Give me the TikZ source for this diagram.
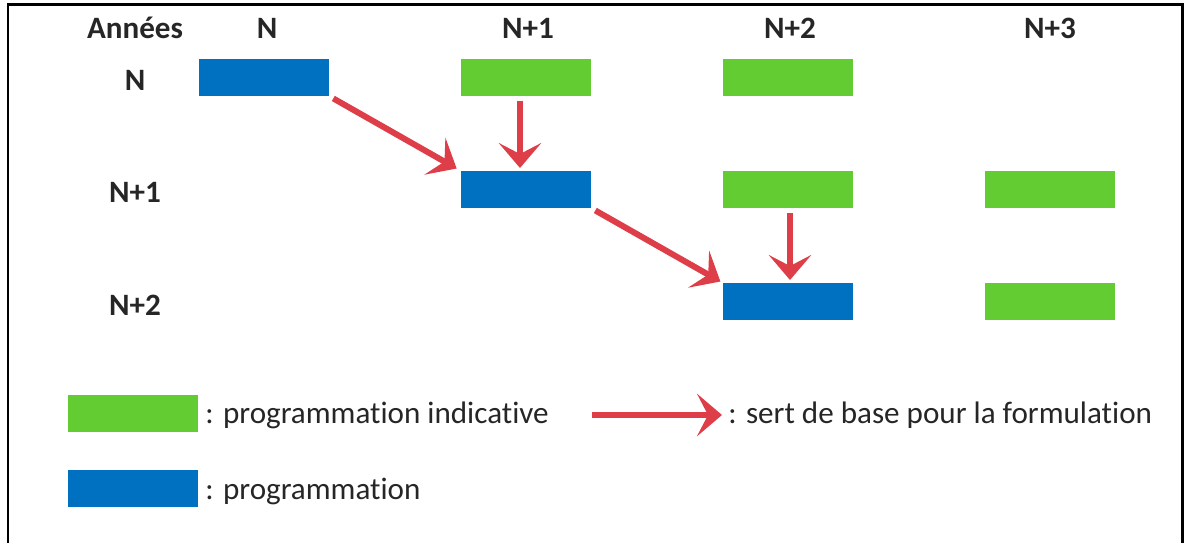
\documentclass[tikz,border=0pt]{standalone}
\usepackage{fontspec}
\setmainfont{Carlito}[Ligatures=NoCommon]
\usetikzlibrary{arrows.meta}
\definecolor{progblue}{RGB}{0,112,192}
\definecolor{indgreen}{RGB}{98,204,50}
\definecolor{arrowred}{RGB}{222,62,72}

\begin{document}
\begin{tikzpicture}[x=0.02cm, y=-0.02cm,
  bar/.style={minimum width=2.6cm, minimum height=0.74cm, inner sep=0pt, outer sep=0pt},
  prog/.style={bar, fill=progblue},
  indic/.style={bar, fill=indgreen},
  head/.style={font=\fontsize{17.7}{19}\selectfont\bfseries, text=black!85},
  legend/.style={font=\fontsize{17.7}{19}\selectfont, text=black!85, anchor=west, inner sep=0pt},
  base/.style={-{Stealth[length=0.5cm, width=0.85cm, inset=0.22cm]}, line width=0.12cm, arrowred}]
\useasboundingbox (0,0) rectangle (1188,543);
\draw[line width=0.06cm] (8,543) -- (8,5) -- (1182,5) -- (1182,543);
  \node[head] (annees) at (135,28) {Années};
  \node[head] (colN) at (267,28) {N};
  \node[head] (colN1) at (528,28) {N+1};
  \node[head] (colN2) at (790,28) {N+2};
  \node[head] (colN3) at (1050,28) {N+3};
  \node[head] (rowN) at (135,80) {N};
  \node[head] (rowN1) at (135,192) {N+1};
  \node[head] (rowN2) at (135,305) {N+2};
  \node[prog] (pN) at (264,77.5) {};
  \node[indic] (iN-1) at (526,77.5) {};
  \node[indic] (iN-2) at (788,77.5) {};
  \node[prog] (pN1) at (526,189.5) {};
  \node[indic] (iN1-2) at (788,189.5) {};
  \node[indic] (iN1-3) at (1050,189.5) {};
  \node[prog] (pN2) at (788,301.5) {};
  \node[indic] (iN2-3) at (1050,301.5) {};
  \draw[base, shorten <=0.1cm, shorten >=0.1cm] (pN.south east) -- (pN1.north west);
  \draw[base, shorten <=0.1cm, shorten >=0.06cm] ([xshift=-0.12cm]iN-1.south) -- ([xshift=-0.12cm]pN1.north);
  \draw[base, shorten <=0.1cm, shorten >=0.06cm] (pN1.south east) -- (pN2.north west);
  \draw[base, shorten <=0.1cm, shorten >=0.06cm] ([xshift=0.04cm]iN1-2.south) -- ([xshift=0.04cm]pN2.north);
  \node[indic] (legI) at (133,413.5) {};
  \node[legend] (legItxt) at (205,415) {: programmation indicative};
  \coordinate (legA) at (592,415);
  \coordinate (legB) at (722,415);
  \draw[base] (legA) -- (legB);
  \node[legend] (legAtxt) at (728,415) {: sert de base pour la formulation};
  \node[prog] (legP) at (133,488.5) {};
  \node[legend] (legPtxt) at (205,491) {: programmation};
\end{tikzpicture}
\end{document}
